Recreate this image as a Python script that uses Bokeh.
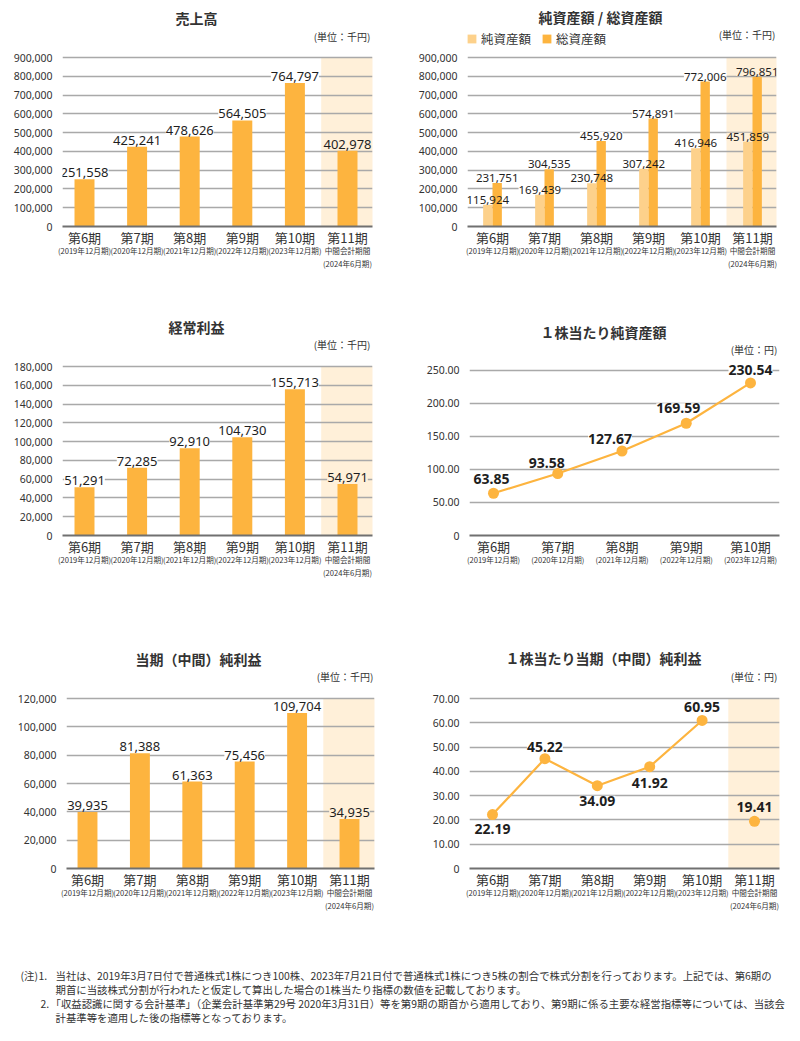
from bokeh.plotting import figure
from bokeh.models import (Range1d, FixedTicker, NumeralTickFormatter, LinearAxis,
                          ColumnDataSource, Legend, LegendItem)
from bokeh.layouts import column, row
from bokeh.core.properties import value
from bokeh.transform import dodge
from bokeh.embed import file_html
from bokeh.resources import INLINE

# ---------------- data ----------------
periods = ["第6期", "第7期", "第8期", "第9期", "第10期", "第11期"]
period_notes = ["(2019年12月期)", "(2020年12月期)", "(2021年12月期)",
                "(2022年12月期)", "(2023年12月期)", "中間会計期間\n(2024年6月期)"]
sales = [251558, 425241, 478626, 564505, 764797, 402978]
net_assets = [115924, 169439, 230748, 307242, 416946, 451859]
total_assets = [231751, 304535, 455920, 574891, 772006, 796851]
ordinary_income = [51291, 72285, 92910, 104730, 155713, 54971]
net_income = [39935, 81388, 61363, 75456, 109704, 34935]
bps = [63.85, 93.58, 127.67, 169.59, 230.54]
eps = [22.19, 45.22, 34.09, 41.92, 60.95, 19.41]
interim_index = 5

titles = ["売上高", "純資産額 / 総資産額", "経常利益", "１株当たり純資産額",
          "当期（中間）純利益", "１株当たり当期（中間）純利益"]
unit_k = "(単位：千円)"
unit_y = "(単位：円)"
legend_labels = ["純資産額", "総資産額"]

footnotes = [
    "(注)",
    "1.",
    "当社は、2019年3月7日付で普通株式1株につき100株、2023年7月21日付で普通株式1株につき5株の割合で株式分割を行っております。上記では、第6期の",
    "期首に当該株式分割が行われたと仮定して算出した場合の1株当たり指標の数値を記載しております。",
    "2.",
    "「収益認識に関する会計基準」（企業会計基準第29号 2020年3月31日）等を第9期の期首から適用しており、第9期に係る主要な経営指標等については、当該会",
    "計基準等を適用した後の指標等となっております。",
]

# ---------------- styles ----------------
JP = "Noto Sans CJK JP"
NUM = "Noto Sans"
ORANGE = "#FDB43F"
LIGHT = "#FDD18B"
BAND = "#FFF0D9"
GRID = "#A9A9A9"
AXIS = "#707070"
TXT = "#333333"
DARK = "#1E1E1E"


def base(w, h, L, R, top_px, zero_px, tick_max, tick_step, c0, step, decimals):
    x0 = (L - c0) / step
    x1 = (R - c0) / step
    y1 = tick_max * zero_px / (zero_px - top_px)
    p = figure(width=w, height=h, x_range=Range1d(x0, x1), y_range=Range1d(0, y1),
               output_backend="svg", toolbar_location=None, tools="",
               min_border_left=L, min_border_right=w - R, min_border_top=0,
               min_border_bottom=h - zero_px)
    p.outline_line_color = None
    p.border_fill_color = "white"
    p.background_fill_color = "white"
    p.xgrid.visible = False
    n = round(tick_max / tick_step)
    ticks = [tick_step * i for i in range(n + 1)]
    p.yaxis.ticker = FixedTicker(ticks=ticks)
    p.ygrid.ticker = FixedTicker(ticks=ticks)
    p.ygrid.grid_line_color = GRID
    p.ygrid.grid_line_width = 1.3
    ya = p.yaxis[0]
    ya.axis_line_color = None
    ya.major_tick_line_color = None
    ya.minor_tick_line_color = None
    ya.major_label_standoff = 4
    ya.major_label_text_font = NUM
    ya.major_label_text_font_size = "10.5px"
    ya.major_label_text_color = TXT
    if decimals:
        ya.formatter = NumeralTickFormatter(format="0.00")
        ya.major_label_overrides = {0: "0"}
    else:
        ya.formatter = NumeralTickFormatter(format="0,0")

    def X(px):
        return (px - c0) / step

    def Y(py):
        return y1 * (zero_px - py) / zero_px
    return p, X, Y


def header(p, X, Y, title, tx, ty, unit, ux, uy):
    p.text(x=[X(tx)], y=[Y(ty)], text=[title], text_align="center", text_baseline="middle",
           text_font=value(JP), text_font_size="14px", text_font_style="bold", text_color=TXT)
    p.text(x=[X(ux)], y=[Y(uy)], text=[unit], text_align="right", text_baseline="middle",
           text_font=value(JP), text_font_size="10px", text_color=TXT)


def cat_axes(p, labels, notes):
    t = list(range(len(labels)))
    ax = p.xaxis[0]
    ax.ticker = FixedTicker(ticks=t)
    ax.major_label_overrides = {i: labels[i] for i in t}
    ax.axis_line_color = AXIS
    ax.axis_line_width = 2
    ax.major_tick_line_color = None
    ax.minor_tick_line_color = None
    ax.major_label_standoff = -5
    ax.major_label_text_font = JP
    ax.major_label_text_font_size = "13px"
    ax.major_label_text_color = TXT
    ax2 = LinearAxis(ticker=FixedTicker(ticks=t),
                     major_label_overrides={i: notes[i] for i in t})
    ax2.axis_line_color = None
    ax2.major_tick_line_color = None
    ax2.minor_tick_line_color = None
    ax2.major_label_standoff = -11
    ax2.major_label_text_font = JP
    ax2.major_label_text_font_size = "7.6px"
    ax2.major_label_text_color = TXT
    p.add_layout(ax2, "below")


def band(p, idx, top):
    p.quad(left=[idx - 0.5], right=[idx + 0.5], bottom=[0], top=[top],
           fill_color=BAND, line_color=None, level="image")


def bg_list(n):
    return [BAND if i == interim_index else "white" for i in range(n)]


def bar_chart(vals, title, geom, header_pos, tick_max, tick_step):
    w, h, L, R, top_px, zero_px, c0, step = geom
    p, X, Y = base(w, h, L, R, top_px, zero_px, tick_max, tick_step, c0, step, False)
    band(p, interim_index, tick_max)
    header(p, X, Y, title, *header_pos)
    src = ColumnDataSource(dict(x=list(range(len(vals))), v=vals,
                                lab=[f"{v:,}" for v in vals], bg=bg_list(len(vals))))
    kw = dict(x="x", y="v", text="lab", source=src, text_align="center",
              text_baseline="bottom", y_offset=-2, text_font=value(NUM),
              text_font_size="13px", text_color=DARK)
    p.text(text_alpha=0, background_fill_color="bg", **kw)
    p.vbar(x="x", top="v", width=0.38, source=src, fill_color=ORANGE, line_color=None)
    p.text(**kw)
    cat_axes(p, periods, period_notes)
    return p


# ---- chart 1: 売上高
f1 = bar_chart(sales, titles[0], (400, 300, 62, 372, 57, 226, 84, 52.6),
               (196, 17, unit_k, 370, 36), 900000, 100000)

# ---- chart 2: 純資産額 / 総資産額
p, X, Y = base(400, 300, 67, 376, 57, 226, 900000, 100000, 92, 52, False)
band(p, interim_index, 900000)
p.text(x=[X(200)], y=[Y(16)], text=[titles[1]], text_align="center", text_baseline="middle",
       text_font=value(JP), text_font_size="14px", text_font_style="bold", text_color=TXT)
p.text(x=[X(375)], y=[Y(34)], text=[unit_k], text_align="right", text_baseline="middle",
       text_font=value(JP), text_font_size="10px", text_color=TXT)
src2 = ColumnDataSource(dict(x=list(range(6)), net=net_assets, tot=total_assets,
                             nlab=[f"{v:,}" for v in net_assets],
                             tlab=[f"{v:,}" for v in total_assets], bg=bg_list(6)))
off = 0.09
kw_n = dict(x=dodge("x", -off, range=p.x_range), y="net", text="nlab", source=src2,
            text_align="center", text_baseline="bottom", y_offset=-1,
            text_font=value(NUM), text_font_size="11.5px", text_color=DARK)
kw_t = dict(kw_n, x=dodge("x", off, range=p.x_range), y="tot", text="tlab")
p.text(text_alpha=0, background_fill_color="bg", **kw_n)
p.text(text_alpha=0, background_fill_color="bg", **kw_t)
r_net = p.vbar(x=dodge("x", -off, range=p.x_range), top="net", width=0.18, source=src2,
               fill_color=LIGHT, line_color=None)
r_tot = p.vbar(x=dodge("x", off, range=p.x_range), top="tot", width=0.18, source=src2,
               fill_color=ORANGE, line_color=None)
p.text(**kw_n)
p.text(**kw_t)
leg = Legend(items=[LegendItem(label=legend_labels[0], renderers=[r_net]),
                    LegendItem(label=legend_labels[1], renderers=[r_tot])],
             orientation="horizontal", location=(-1, 178), padding=0, margin=0,
             spacing=10, label_standoff=4, glyph_width=11, glyph_height=11,
             label_height=14, label_text_font=JP, label_text_font_size="12.5px",
             label_text_color=TXT, border_line_color=None, background_fill_alpha=0)
p.add_layout(leg)
cat_axes(p, periods, period_notes)
f2 = p

# ---- chart 3: 経常利益
f3 = bar_chart(ordinary_income, titles[2], (400, 340, 62, 372, 66, 235, 84, 52.6),
               (196, 26, unit_k, 370, 44), 180000, 20000)

# ---- chart 4: 1株当たり純資産額
p, X, Y = base(400, 340, 69, 379, 71, 240, 250, 50, 93, 64.25, True)
header(p, X, Y, titles[3], 203, 32, unit_y, 377, 50)
src4 = ColumnDataSource(dict(x=list(range(len(bps))), v=bps, lab=[f"{v:.2f}" for v in bps],
                             dx=[-2, -11, -12, -8, 0], dy=[-14, -11, -12, -15, -13],
                             bg=["white"] * len(bps)))
kw4 = dict(x="x", y="v", text="lab", source=src4, x_offset="dx", y_offset="dy",
           text_align="center", text_baseline="middle", text_font=value(NUM),
           text_font_size="14px", text_font_style="bold", text_color=DARK)
p.text(text_alpha=0, background_fill_color="bg", **kw4)
p.line("x", "v", source=src4, line_color=ORANGE, line_width=2.2)
p.scatter("x", "v", source=src4, size=11, fill_color=ORANGE, line_color=None)
p.text(**kw4)
cat_axes(p, periods[:len(bps)], period_notes[:len(bps)])
f4 = p

# ---- chart 5: 当期（中間）純利益
f5 = bar_chart(net_income, titles[4], (400, 290, 66, 374, 58, 228, 87, 52.4),
               (198, 18, unit_k, 373, 36), 120000, 20000)

# ---- chart 6: 1株当たり当期（中間）純利益
p, X, Y = base(400, 290, 69, 379, 58, 228, 70, 10, 92, 52.4, True)
band(p, interim_index, 70)
header(p, X, Y, titles[5], 203, 17, unit_y, 377, 36)
src6 = ColumnDataSource(dict(x=list(range(len(eps))), v=eps, lab=[f"{v:.2f}" for v in eps],
                             dy=[14, -12, 15, 16, -13, -14], bg=bg_list(len(eps))))
src6l = ColumnDataSource(dict(x=list(range(interim_index)), v=eps[:interim_index]))
kw6 = dict(x="x", y="v", text="lab", source=src6, y_offset="dy",
           text_align="center", text_baseline="middle", text_font=value(NUM),
           text_font_size="14px", text_font_style="bold", text_color=DARK)
p.text(text_alpha=0, background_fill_color="bg", **kw6)
p.line("x", "v", source=src6l, line_color=ORANGE, line_width=2.2)
p.scatter("x", "v", source=src6, size=11, fill_color=ORANGE, line_color=None)
p.text(**kw6)
cat_axes(p, periods, period_notes)
f6 = p

# ---- footnotes
f7 = figure(width=800, height=111, x_range=Range1d(0, 800), y_range=Range1d(111, 0),
            x_axis_type=None, y_axis_type=None, output_backend="svg",
            toolbar_location=None, tools="", min_border=0)
f7.outline_line_color = None
f7.grid.visible = False
fx = [20, 38, 55, 55, 40, 50, 55]
fy = [45, 45, 45, 59, 73, 73, 87]
f7.text(x=fx, y=fy, text=footnotes, text_align="left", text_baseline="middle",
        text_font=value(JP), text_font_size="10.4px", text_color=TXT)

layout = column(row(f1, f2), row(f3, f4), row(f5, f6), f7)
open("out.html", "w").write(file_html(layout, INLINE))
